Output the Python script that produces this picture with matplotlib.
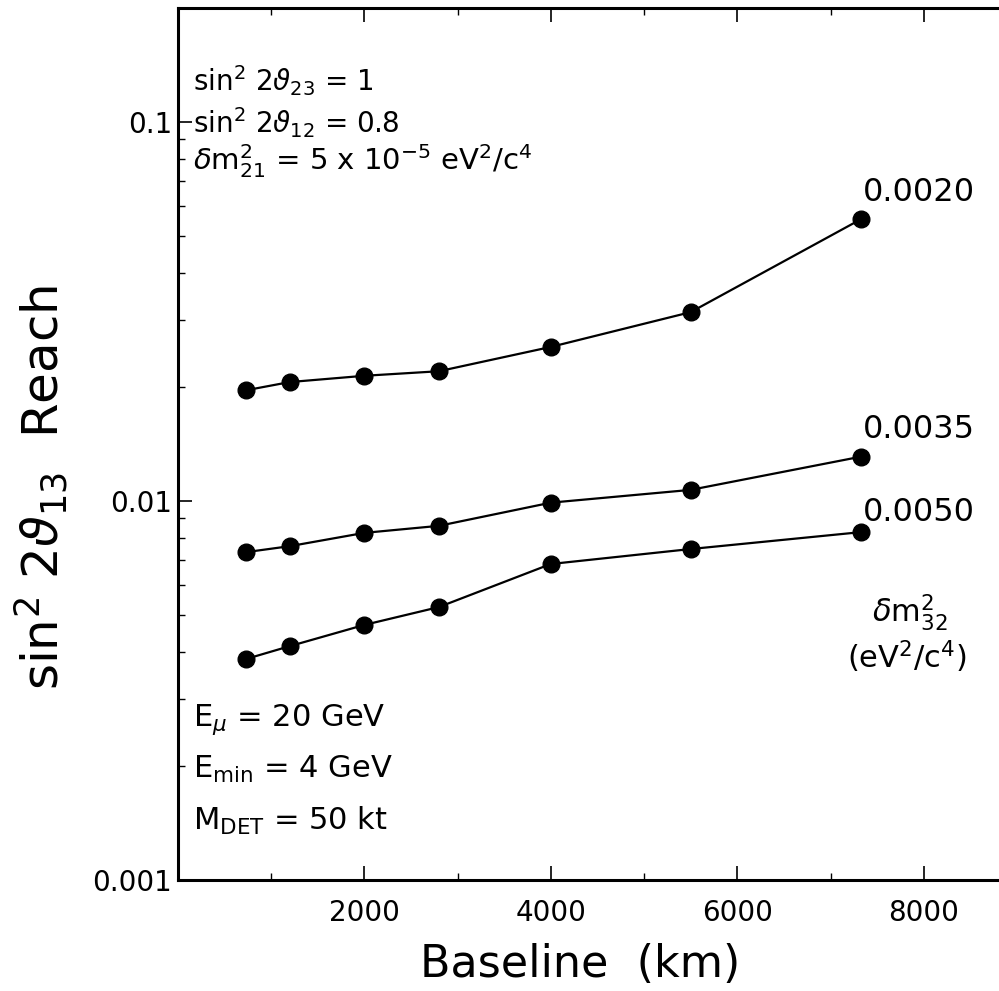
import matplotlib
matplotlib.use('Agg')
import matplotlib.pyplot as plt
from matplotlib.ticker import FixedLocator, FixedFormatter, MultipleLocator, LogLocator, NullFormatter

baseline_km = [732, 1200, 2000, 2800, 4000, 5500, 7332]

reach_dm32_0020 = [0.0196, 0.0206, 0.0214, 0.0220, 0.0255, 0.0315, 0.0555]
reach_dm32_0035 = [0.00733, 0.0076, 0.00824, 0.0086, 0.0099, 0.0107, 0.0131]
reach_dm32_0050 = [0.00383, 0.00414, 0.00471, 0.00525, 0.00682, 0.00747, 0.00828]

curve_labels = ['0.0020', '0.0035', '0.0050']
ytick_vals = [0.001, 0.01, 0.1]
ytick_labels = ['0.001', '0.01', '0.1']
xtick_vals = [2000, 4000, 6000, 8000]

plt.rcParams['font.family'] = 'DejaVu Sans'
plt.rcParams['mathtext.fontset'] = 'dejavusans'

fig = plt.figure(figsize=(9.99, 9.91), dpi=100)
# right spine sits just past the picture edge, as in the scan
ax = fig.add_axes([0.178, 0.112, 0.84, 0.880])

series = [reach_dm32_0020, reach_dm32_0035, reach_dm32_0050]
label_offsets = [(1, 8), (1, 8), (1, 3)]
for vals, lab, off in zip(series, curve_labels, label_offsets):
    ax.plot(baseline_km, vals, color='black', lw=1.6, marker='o', ms=12,
            markerfacecolor='black', markeredgecolor='black')
    ax.annotate(lab, (baseline_km[-1], vals[-1]), xytext=off,
                textcoords='offset points', ha='left', va='bottom', fontsize=23)

ax.set_yscale('log')
ax.set_xlim(0, 9000)
ax.set_ylim(0.001, 0.2)

ax.yaxis.set_major_locator(FixedLocator(ytick_vals))
ax.yaxis.set_major_formatter(FixedFormatter(ytick_labels))
ax.yaxis.set_minor_locator(LogLocator(base=10, subs=range(2, 10)))
ax.yaxis.set_minor_formatter(NullFormatter())
ax.xaxis.set_major_locator(FixedLocator(xtick_vals))
ax.xaxis.set_minor_locator(MultipleLocator(1000))

ax.tick_params(which='both', direction='in', top=True, right=True, labelsize=20)
ax.tick_params(which='major', length=10, width=1.2)
ax.tick_params(which='minor', length=5, width=1.0)
ax.tick_params(axis='x', pad=14)
ax.tick_params(axis='y', pad=4)
for sp in ax.spines.values():
    sp.set_linewidth(2.2)

ax.set_xlabel('Baseline  (km)', fontsize=32)
ax.xaxis.set_label_coords(0.48, -0.072)
ax.set_ylabel(r'sin$^2$ 2$\vartheta_{13}$  Reach', fontsize=36)
ax.yaxis.set_label_coords(-0.128, 0.45)

fs = 20
ax.text(0.018, 0.917, r'sin$^2$ 2$\vartheta_{23}$ = 1', transform=ax.transAxes, fontsize=fs, va='center')
ax.text(0.018, 0.869, r'sin$^2$ 2$\vartheta_{12}$ = 0.8', transform=ax.transAxes, fontsize=fs, va='center')
ax.text(0.018, 0.824, r'$\delta$m$^2_{21}$ = 5 x 10$^{-5}$ eV$^2$/c$^4$', transform=ax.transAxes, fontsize=21, va='center')

ax.text(0.018, 0.184, r'E$_\mu$ = 20 GeV', transform=ax.transAxes, fontsize=22, va='center')
ax.text(0.018, 0.127, r'E$_\mathrm{min}$ = 4 GeV', transform=ax.transAxes, fontsize=22, va='center')
ax.text(0.018, 0.068, r'M$_\mathrm{DET}$ = 50 kt', transform=ax.transAxes, fontsize=22, va='center')

ax.text(0.872, 0.307, r'$\delta$m$^2_{32}$', transform=ax.transAxes, fontsize=22, ha='center', va='center')
ax.text(0.868, 0.256, r'(eV$^2$/c$^4$)', transform=ax.transAxes, fontsize=22, ha='center', va='center')

fig.savefig('out.png', dpi=100)
